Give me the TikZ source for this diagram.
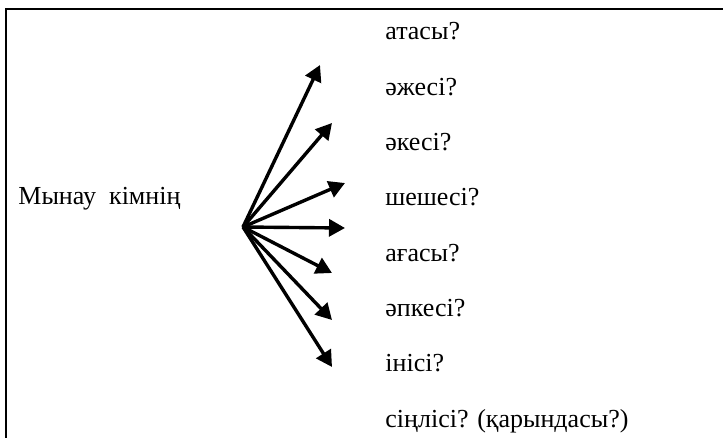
\documentclass[tikz,border=0pt]{standalone}
\usepackage{fontspec}
\setmainfont{Liberation Serif}
\usetikzlibrary{arrows.meta}

\begin{document}
\begin{tikzpicture}[x=0.5pt,y=-0.5pt,
    ray/.style={-{Triangle[length=8pt,width=8.5pt]},line width=1.7pt},
    word/.style={anchor=base west,inner sep=0pt,font=\fontsize{13}{15}\selectfont}]
        \useasboundingbox (0,0) rectangle (723,438);
        \draw[line width=1.1pt] (6,438) -- (6,9) -- (723,9);
        \node[word] (who) at (18,205) {Мынау\ \ кімнің};
        \coordinate (o) at (243,227);
        \foreach \w [count=\i] in {атасы?,әжесі?,әкесі?,шешесі?,ағасы?,әпкесі?,інісі?,{сіңлісі? (қарындасы?)}}
          \node[word] (w\i) at (385,{40+55.3*(\i-1)}) {\w};
        \foreach \x/\y [count=\i] in {320/65,332/123,345/183,345/228,332/273,332/320,332/367} {
          \coordinate (t\i) at (\x,\y);
          \draw[ray] (o) -- (t\i);
        }
      \end{tikzpicture}
\end{document}
